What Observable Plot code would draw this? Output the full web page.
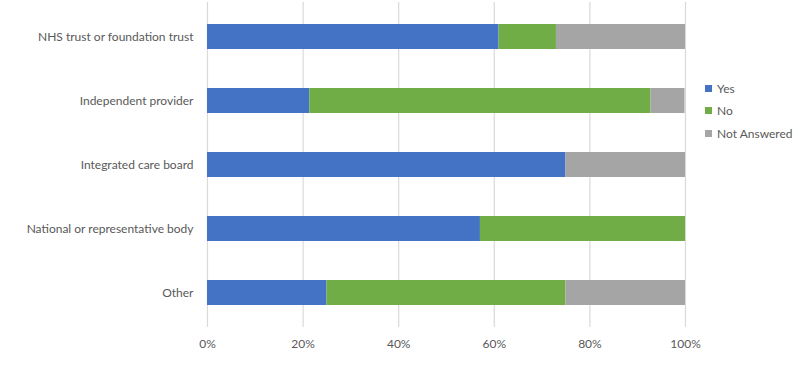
<!DOCTYPE html>
<html>
<head>
<meta charset="utf-8">
<script src="https://cdn.jsdelivr.net/npm/d3@7"></script>
<script src="https://cdn.jsdelivr.net/npm/@observablehq/plot@0.6"></script>
<style>
  html, body { margin: 0; padding: 0; background: #fff; }
  #wrap { position: relative; width: 804px; height: 369px; font-family: Lato, "Open Sans", sans-serif; }
  #legend { position: absolute; left: 705px; top: 77px; font-size: 12px; color: #595959; }
  .item { display: flex; align-items: center; height: 22.5px; }
  .sw { width: 7px; height: 7px; margin-right: 5px; }
</style>
</head>
<body>
<div id="wrap"><div id="legend"></div></div>
<script>
const categories = ["NHS trust or foundation trust", "Independent provider", "Integrated care board", "National or representative body", "Other"];
const series = ["Yes", "No", "Not Answered"];
const colors = ["#4472C4", "#70AD47", "#A5A5A5"];
const yes = [61, 21.4, 75, 57.1, 25];
const no = [12, 71.4, 0, 42.9, 50];
const notAnswered = [27, 7.1, 25, 0, 25];
const xTicks = [0, 0.2, 0.4, 0.6, 0.8, 1];

const values = [yes, no, notAnswered];
const data = [];
categories.forEach((c, i) => {
  series.forEach((s, j) => {
    data.push({category: c, answer: s, value: values[j][i] / 100});
  });
});

const chart = Plot.plot({
  width: 804,
  height: 369,
  marginLeft: 207,
  marginRight: 119,
  marginTop: 2,
  marginBottom: 42,
  style: {fontFamily: "Lato, 'Open Sans', sans-serif", fontSize: "12px", color: "#595959", background: "#fff"},
  x: {domain: [0, 1], ticks: xTicks, tickFormat: d3.format(".0%"), tickSize: 0, tickPadding: 12, label: null},
  y: {domain: categories, paddingInner: 0.615, paddingOuter: 0.3077, tickSize: 0, tickPadding: 14, label: null},
  color: {domain: series, range: colors},
  marks: [
    Plot.ruleX(xTicks, {stroke: "#d9d9d9", strokeWidth: 1.2}),
    Plot.barX(data, Plot.stackX({y: "category", x: "value", fill: "answer", order: series})),
    Plot.axisX({ticks: xTicks, tickFormat: d3.format(".0%"), tickSize: 0, tickPadding: 12, fill: "#595959", label: null}),
    Plot.axisY({tickSize: 0, tickPadding: 14, fill: "#595959", label: null})
  ]
});
document.getElementById("wrap").prepend(chart);

const legend = document.getElementById("legend");
series.forEach((s, j) => {
  const it = document.createElement("div");
  it.className = "item";
  it.innerHTML = `<span class="sw" style="background:${colors[j]}"></span><span>${s}</span>`;
  legend.appendChild(it);
});
</script>
</body>
</html>
